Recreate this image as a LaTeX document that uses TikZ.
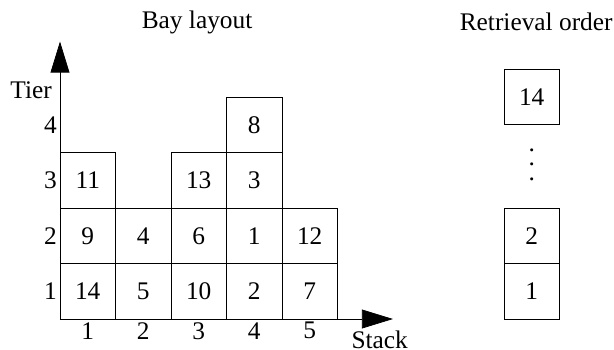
\documentclass[tikz,border=0pt]{standalone}
\usepackage{fontspec}
\setmainfont{Liberation Serif}
\usetikzlibrary{arrows.meta}

\begin{document}
\begin{tikzpicture}[font=\fontsize{13}{15}\selectfont,
  cell/.style={draw,minimum size=1cm,inner sep=0pt,outer sep=0pt},
  axis/.style={-{Triangle[length=5.6mm,width=3.4mm]}},
  lab/.style={inner sep=1.5pt}]
\useasboundingbox (-1.081,-0.541) rectangle (9.982,5.748);
% --- titles ---
\node (bay) at (2.47,5.35) {Bay layout};
\node (ret) at (8.58,5.35) {Retrieval order};
% --- stack 1 ---
\node[cell] (c11) at (0.5,0.5) {14};
\node[cell] (c12) at (0.5,1.5) {9};
\node[cell] (c13) at (0.5,2.5) {11};
% --- stack 2 ---
\node[cell] (c21) at (1.5,0.5) {5};
\node[cell] (c22) at (1.5,1.5) {4};
% --- stack 3 ---
\node[cell] (c31) at (2.5,0.5) {10};
\node[cell] (c32) at (2.5,1.5) {6};
\node[cell] (c33) at (2.5,2.5) {13};
% --- stack 4 ---
\node[cell] (c41) at (3.5,0.5) {2};
\node[cell] (c42) at (3.5,1.5) {1};
\node[cell] (c43) at (3.5,2.5) {3};
\node[cell] (c44) at (3.5,3.5) {8};
% --- stack 5 ---
\node[cell] (c51) at (4.5,0.5) {7};
\node[cell] (c52) at (4.5,1.5) {12};
% --- axes ---
\coordinate (o) at (0,0);
\coordinate (ytip) at (0,5);
\coordinate (xtip) at (6,0);
\draw[axis] (o) -- (ytip);
\draw[axis] (o) -- (xtip);
\node[lab] (tier) at (-0.52,4.13) {Tier};
\node[lab] (stack) at (5.76,-0.38) {Stack};
\node[lab,anchor=east] (t1) at (0,0.5) {1};
\node[lab,anchor=east] (t2) at (0,1.5) {2};
\node[lab,anchor=east] (t3) at (0,2.5) {3};
\node[lab,anchor=east] (t4) at (0,3.5) {4};
\node[lab,anchor=north] (s1) at (0.5,0) {1};
\node[lab,anchor=north] (s2) at (1.5,0) {2};
\node[lab,anchor=north] (s3) at (2.5,0) {3};
\node[lab,anchor=north] (s4) at (3.5,0) {4};
\node[lab,anchor=north] (s5) at (4.5,0) {5};
% --- retrieval column ---
\node[cell] (r1)  at (8.5,0.5) {1};
\node[cell] (r2)  at (8.5,1.5) {2};
\node[align=center,font=\fontsize{13}{7.4}\selectfont] (rdots) at (8.5,2.78) {.\\.\\.};
\node[cell] (r14) at (8.5,4.0) {14};
\end{tikzpicture}
\end{document}
